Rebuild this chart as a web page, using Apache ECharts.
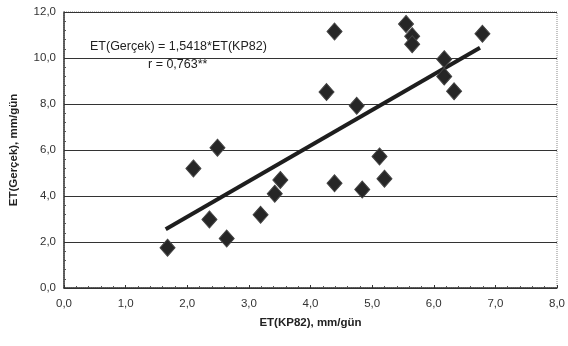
<!DOCTYPE html>
<html>
<head>
<meta charset="utf-8">
<script src="https://cdn.jsdelivr.net/npm/echarts@6/dist/echarts.min.js"></script>
<style>
  html, body { margin: 0; padding: 0; background: #fff; }
  #chart { width: 568px; height: 346px; }
</style>
</head>
<body>
<div id="chart"></div>
<script>
// ölçülen noktalar (ET(KP82), ET(Gerçek))
const kp82 = [1.68, 2.1, 2.49, 2.36, 2.64, 3.19, 3.42, 3.51, 4.26, 4.39, 4.39, 4.75, 4.84, 5.12, 5.2, 5.55, 5.65, 5.65, 6.17, 6.17, 6.33, 6.79]
const gercek = [1.75, 5.2, 6.1, 2.98, 2.15, 3.18, 4.1, 4.7, 8.52, 11.15, 4.55, 7.92, 4.28, 5.72, 4.75, 11.48, 10.95, 10.6, 9.95, 9.2, 8.55, 11.05]

// regresyon doğrusu uç noktaları
const fitX = [1.65, 6.75]
const fitY = [2.55, 10.45]

const xTicks = [0, 1, 2, 3, 4, 5, 6, 7, 8]
const yTicks = [0, 2, 4, 6, 8, 10, 12]

const fmt = v => v.toFixed(1).replace('.', ',')
const FONT = '"Liberation Sans", Arial, sans-serif'

const myChart = echarts.init(document.getElementById('chart'))

const option = {
  animation: false,
  grid: { left: 64, right: 10, top: 12, bottom: 58, show: true, borderColor: '#888', borderWidth: 1, borderType: 'dotted' },
  xAxis: {
    type: 'value',
    min: xTicks[0],
    max: xTicks[xTicks.length - 1],
    interval: 1,
    name: 'ET(KP82), mm/gün',
    nameLocation: 'middle',
    nameGap: 29,
    nameTextStyle: { fontFamily: FONT, fontSize: 11.5, fontWeight: 'bold', color: '#222' },
    axisLine: { lineStyle: { color: '#333', width: 1.5 } },
    axisTick: { show: true, length: 3, inside: true, lineStyle: { color: '#333' } },
    minorTick: { show: true, splitNumber: 5, length: 2, lineStyle: { color: '#555' } },
    axisLabel: { formatter: fmt, fontFamily: FONT, fontSize: 11.5, color: '#333', margin: 10 },
    splitLine: { show: false }
  },
  yAxis: {
    type: 'value',
    min: yTicks[0],
    max: yTicks[yTicks.length - 1],
    interval: 2,
    name: 'ET(Gerçek), mm/gün',
    nameLocation: 'middle',
    nameGap: 44,
    nameTextStyle: { fontFamily: FONT, fontSize: 11.5, fontWeight: 'bold', color: '#222' },
    axisLine: { show: true, lineStyle: { color: '#333', width: 1.5 } },
    axisTick: { show: true, length: 3, inside: true, lineStyle: { color: '#333' } },
    minorTick: { show: true, splitNumber: 5, length: 2, lineStyle: { color: '#555' } },
    axisLabel: { formatter: fmt, fontFamily: FONT, fontSize: 11.5, color: '#333', margin: 8 },
    splitLine: { show: true, lineStyle: { color: '#333', width: 1 } }
  },
  graphic: [
    {
      type: 'text', left: 90, top: 40,
      style: { text: 'ET(Gerçek) = 1,5418*ET(KP82)', fontFamily: FONT, fontSize: 12.5, fill: '#222' }
    },
    {
      type: 'text', left: 148, top: 58,
      style: { text: 'r = 0,763**', fontFamily: FONT, fontSize: 12.5, fill: '#222' }
    }
  ],
  series: [
    {
      type: 'scatter',
      data: kp82.map((x, i) => [x, gercek[i]]),
      symbol: 'diamond',
      symbolSize: [15, 17],
      itemStyle: { color: '#262626', borderColor: '#444', borderWidth: 1, opacity: 1 },
      z: 3
    },
    {
      type: 'line',
      data: fitX.map((x, i) => [x, fitY[i]]),
      showSymbol: false,
      lineStyle: { color: '#1e1e1e', width: 4 },
      z: 2
    }
  ]
}

myChart.setOption(option)
</script>
</body>
</html>
